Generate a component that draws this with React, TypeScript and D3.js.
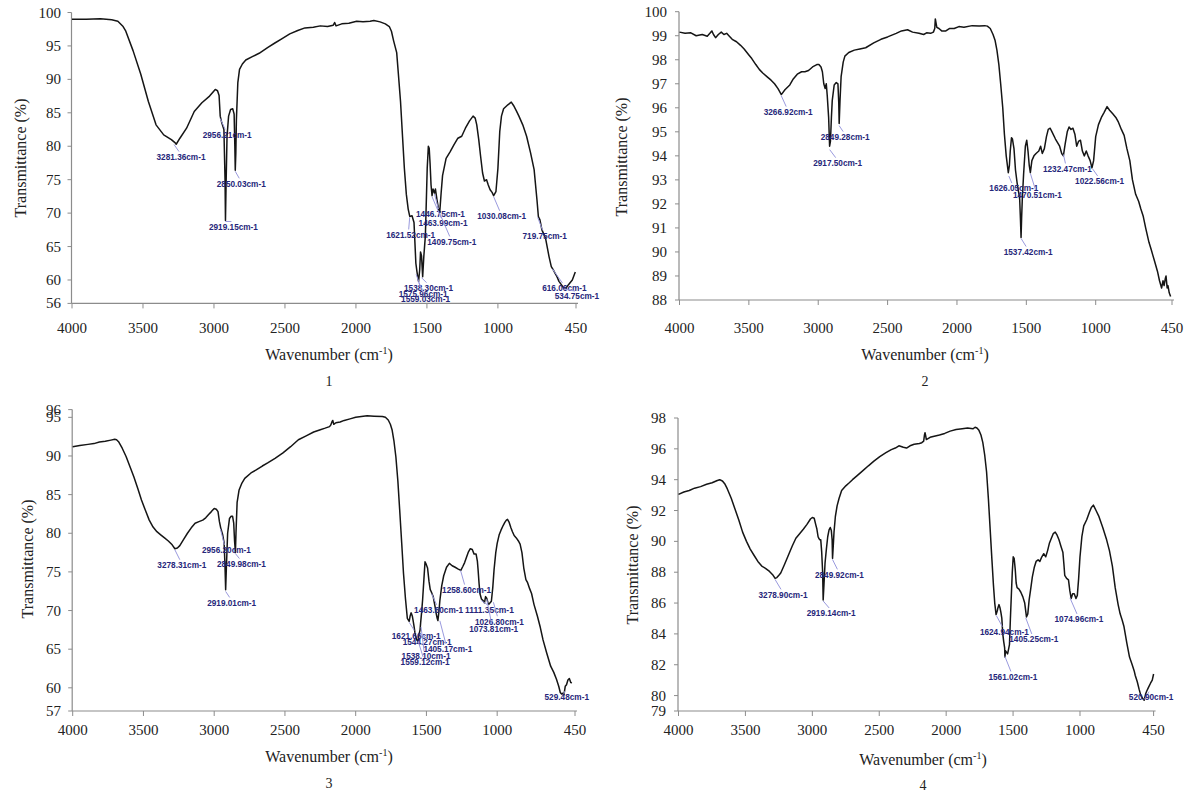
import React from 'react';
import * as d3 from 'd3';

type Pt = [number, number];
type Peak = [number, number, string];

// shared x ticks (wavenumber, cm-1)
const xTicks = [4000, 3500, 3000, 2500, 2000, 1500, 1000, 450];

const yTicks1 = [100, 95, 90, 85, 80, 75, 70, 65, 60, 56];
const yTicks2 = [100, 99, 98, 97, 96, 95, 94, 93, 92, 91, 90, 89, 88];
const yTicks3 = [96, 95, 90, 85, 80, 75, 70, 65, 60, 57];
const yTicks4 = [98, 96, 94, 92, 90, 88, 86, 84, 82, 80, 79];

// spectrum 1: [wavenumber, transmittance %]
const spectrum1: Pt[] = [
  [4000, 99.0], [3900, 99.0], [3800, 99.05], [3720, 98.9], [3677, 98.7], [3640, 97.9], [3623, 97.3],
  [3570, 94.3], [3516, 90.8], [3462, 86.7], [3408, 83.2], [3354, 81.7], [3300, 81.0], [3273, 80.5],
  [3266, 80.3], [3240, 81.2], [3193, 82.7], [3139, 85.2], [3085, 86.5], [3031, 87.5], [2991, 88.5],
  [2975, 88.3], [2964, 87.6], [2956, 84.5], [2945, 83.5], [2930, 82.5], [2922, 75], [2919, 68.9],
  [2915, 74], [2908, 81.5], [2897, 84.5], [2883, 85.5], [2868, 85.6], [2858, 84.8], [2853, 80],
  [2850, 76.4], [2846, 79], [2842, 84], [2832, 89.5], [2820, 91.5], [2800, 92.3], [2776, 92.9],
  [2730, 93.4], [2682, 93.9], [2620, 94.8], [2574, 95.4], [2520, 96.1], [2466, 96.8], [2410, 97.3],
  [2359, 97.7], [2300, 97.8], [2251, 98.0], [2200, 97.9], [2160, 98.1], [2150, 98.5], [2140, 98.0],
  [2100, 98.3], [2050, 98.4], [1995, 98.7], [1950, 98.6], [1900, 98.7], [1874, 98.8], [1830, 98.6],
  [1793, 98.3], [1765, 97.9], [1750, 97.2], [1735, 95.8], [1713, 94.0], [1700, 90.5], [1686, 86.7],
  [1672, 81.5], [1659, 76.7], [1645, 72.8], [1632, 70.6], [1621, 69.5], [1605, 69.6], [1591, 68.6],
  [1578, 62.5], [1570, 61.2], [1565, 60.5], [1559, 59.8], [1551, 61.5], [1545, 64.2], [1538, 63.6],
  [1530, 60.5], [1522, 63.5], [1511, 66.6], [1498, 76.7], [1490, 80.0], [1484, 79.7], [1478, 77.5],
  [1471, 74.2], [1464, 72.6], [1457, 73.6], [1447, 73.0], [1440, 73.6], [1430, 72.1], [1417, 70.5],
  [1410, 70.1], [1400, 73.0], [1390, 75.6], [1365, 78.2], [1336, 79.2], [1310, 80.2], [1282, 81.2],
  [1255, 81.5], [1229, 82.7], [1200, 83.8], [1175, 84.5], [1160, 84.2], [1149, 83.2], [1135, 81.0],
  [1122, 78.5], [1108, 76.0], [1095, 74.8], [1080, 75.0], [1068, 74.2], [1055, 73.5], [1041, 73.1],
  [1030, 72.6], [1014, 73.2], [1000, 76.7], [987, 82.2], [975, 84.5], [960, 85.6], [930, 86.2],
  [906, 86.6], [890, 86.1], [870, 85.3], [852, 84.5], [825, 83.2], [798, 81.5], [770, 79.0],
  [745, 76.5], [725, 72.0], [715, 69.5], [704, 69.0], [690, 67.5], [664, 66.2], [640, 63.5],
  [624, 62.0], [610, 61.5], [597, 61.0], [584, 60.5], [570, 59.8], [543, 59.0], [535, 58.8],
  [520, 58.8], [503, 59.3], [476, 60.0], [455, 61.2],
];

const spectrum2: Pt[] = [
  [4000, 99.15], [3960, 99.1], [3918, 99.12], [3880, 99.0], [3836, 99.05], [3800, 98.98], [3781, 99.1],
  [3767, 99.2], [3755, 99.05], [3740, 98.92], [3720, 99.05], [3699, 99.15], [3680, 99.05], [3660, 99.1],
  [3644, 99.0], [3620, 98.85], [3589, 98.75], [3560, 98.6], [3534, 98.45], [3500, 98.2], [3479, 98.05],
  [3450, 97.8], [3425, 97.6], [3400, 97.45], [3370, 97.3], [3340, 97.15], [3315, 97.0], [3290, 96.8],
  [3266, 96.55], [3240, 96.75], [3205, 96.95], [3180, 97.2], [3151, 97.4], [3120, 97.5], [3096, 97.5],
  [3070, 97.55], [3041, 97.7], [3010, 97.8], [2995, 97.8], [2980, 97.7], [2970, 97.5], [2960, 97.0],
  [2950, 96.8], [2942, 97.0], [2935, 96.5], [2925, 95.6], [2918, 94.4], [2912, 94.6], [2905, 95.6],
  [2899, 96.3], [2885, 96.95], [2870, 97.05], [2858, 97.0], [2852, 96.2], [2849, 95.35], [2843, 96.3],
  [2835, 97.3], [2820, 97.9], [2808, 98.15], [2780, 98.3], [2740, 98.4], [2700, 98.45], [2658, 98.5],
  [2600, 98.7], [2548, 98.85], [2500, 98.95], [2438, 99.1], [2400, 99.2], [2356, 99.25], [2320, 99.15],
  [2274, 99.1], [2240, 99.05], [2219, 99.12], [2190, 99.1], [2170, 99.15], [2160, 99.3], [2156, 99.7],
  [2150, 99.5], [2145, 99.35], [2130, 99.3], [2110, 99.2], [2080, 99.2], [2055, 99.3], [2020, 99.3],
  [1986, 99.38], [1950, 99.35], [1890, 99.42], [1840, 99.4], [1800, 99.42], [1781, 99.4], [1760, 99.3],
  [1740, 99.05], [1725, 98.8], [1712, 98.4], [1698, 97.8], [1685, 97.0], [1670, 96.0], [1658, 94.9],
  [1645, 94.0], [1630, 93.3], [1622, 93.6], [1616, 94.2], [1607, 94.75], [1600, 94.7], [1589, 94.3],
  [1578, 93.4], [1567, 92.9], [1556, 92.5], [1548, 92.2], [1542, 91.3], [1538, 90.6], [1534, 91.4],
  [1529, 92.2], [1520, 93.2], [1507, 94.4], [1497, 94.65], [1488, 94.2], [1479, 93.6], [1471, 93.3],
  [1460, 93.8], [1445, 94.0], [1430, 94.1], [1410, 94.2], [1397, 94.4], [1385, 94.1], [1370, 94.3],
  [1355, 94.8], [1342, 95.1], [1328, 95.15], [1315, 95.0], [1290, 94.7], [1260, 94.4], [1245, 94.1],
  [1233, 94.0], [1220, 94.5], [1205, 95.0], [1192, 95.2], [1178, 95.1], [1164, 95.15], [1150, 94.9],
  [1137, 94.4], [1124, 94.6], [1110, 94.65], [1096, 94.2], [1082, 94.0], [1068, 94.2], [1055, 94.0],
  [1040, 93.8], [1027, 93.5], [1015, 93.8], [1000, 94.8], [980, 95.3], [959, 95.6], [940, 95.8],
  [918, 96.05], [900, 95.9], [877, 95.75], [855, 95.6], [836, 95.4], [815, 95.1], [795, 94.85],
  [775, 94.3], [754, 93.8], [735, 93.0], [712, 92.4], [690, 92.1], [675, 91.8], [658, 91.5],
  [640, 91.0], [616, 90.4], [600, 90.1], [590, 89.9], [575, 89.6], [555, 89.2], [540, 88.8],
  [525, 88.5], [515, 88.8], [507, 88.6], [498, 88.9], [493, 89.0], [485, 88.5], [479, 88.6],
  [470, 88.3], [460, 88.15],
];

const spectrum3: Pt[] = [
  [4000, 91.2], [3950, 91.35], [3892, 91.5], [3850, 91.6], [3811, 91.8], [3770, 91.9], [3730, 92.05],
  [3703, 92.15], [3690, 92.1], [3676, 91.85], [3650, 91.0], [3622, 89.9], [3595, 88.6], [3568, 87.3],
  [3540, 85.8], [3514, 84.3], [3487, 83.0], [3459, 81.7], [3432, 80.8], [3405, 80.2], [3378, 79.8],
  [3351, 79.4], [3324, 79.0], [3297, 78.5], [3278, 78.0], [3260, 78.1], [3243, 78.4], [3216, 79.2],
  [3189, 80.0], [3162, 80.7], [3135, 81.3], [3108, 81.5], [3081, 81.7], [3060, 82.0], [3041, 82.4],
  [3020, 82.8], [3000, 83.2], [2985, 83.1], [2973, 82.8], [2963, 81.5], [2954, 80.7], [2940, 79.8],
  [2930, 78.8], [2924, 76.0], [2919, 72.7], [2914, 75.5], [2905, 80.0], [2892, 81.9], [2880, 82.2],
  [2870, 82.2], [2862, 81.3], [2856, 79.0], [2850, 77.5], [2846, 80.0], [2838, 84.0], [2824, 85.6],
  [2804, 86.5], [2784, 87.1], [2740, 87.8], [2703, 88.2], [2660, 88.7], [2622, 89.1], [2570, 89.7],
  [2514, 90.4], [2460, 91.2], [2405, 92.1], [2350, 92.6], [2297, 93.1], [2250, 93.4], [2216, 93.6],
  [2185, 93.8], [2176, 94.0], [2168, 94.4], [2162, 94.6], [2155, 94.1], [2140, 94.3], [2110, 94.4],
  [2081, 94.6], [2040, 94.8], [2000, 95.0], [1960, 95.1], [1919, 95.2], [1870, 95.15], [1811, 95.1],
  [1790, 95.0], [1770, 94.65], [1755, 94.1], [1743, 93.4], [1730, 92.0], [1716, 89.9], [1702, 86.8],
  [1689, 83.0], [1675, 78.8], [1662, 74.8], [1648, 71.5], [1635, 69.0], [1622, 68.6], [1615, 69.3],
  [1608, 69.7], [1600, 69.3], [1595, 68.8], [1588, 68.0], [1581, 67.1], [1574, 66.5], [1568, 66.2],
  [1559, 66.0], [1554, 66.8], [1545, 67.5], [1541, 68.4], [1534, 69.8], [1527, 71.4], [1518, 74.0],
  [1510, 76.3], [1502, 76.0], [1492, 75.5], [1482, 73.8], [1473, 72.7], [1465, 72.4], [1459, 72.1],
  [1452, 71.8], [1446, 71.2], [1439, 70.5], [1432, 69.7], [1424, 69.0], [1419, 68.7], [1412, 69.8],
  [1405, 71.3], [1392, 73.2], [1378, 74.5], [1358, 75.6], [1338, 76.1], [1318, 75.8], [1297, 75.6],
  [1278, 75.4], [1257, 75.2], [1243, 75.7], [1230, 76.2], [1215, 77.0], [1203, 77.6], [1190, 78.0],
  [1176, 77.9], [1163, 77.3], [1149, 77.3], [1140, 76.4], [1135, 75.3], [1128, 73.5], [1122, 72.2],
  [1111, 71.5], [1100, 71.3], [1090, 71.0], [1082, 71.8], [1074, 71.6], [1065, 71.0], [1059, 70.8],
  [1050, 71.0], [1041, 71.2], [1031, 73.0], [1022, 75.3], [1010, 77.5], [1000, 78.7], [986, 79.8],
  [973, 80.4], [958, 81.0], [946, 81.4], [935, 81.7], [927, 81.8], [915, 81.4], [903, 80.7],
  [892, 80.2], [880, 79.7], [865, 79.4], [850, 79.0], [838, 78.6], [825, 77.5], [812, 75.5],
  [797, 74.0], [785, 73.6], [770, 72.8], [757, 72.2], [740, 70.8], [716, 69.3], [695, 67.8],
  [676, 66.2], [650, 64.5], [622, 62.8], [600, 62.0], [581, 61.1], [565, 60.2], [554, 59.4],
  [545, 59.2], [535, 59.3], [528, 59.1], [519, 60.2], [510, 60.4], [500, 61.0], [490, 61.2],
  [480, 60.7], [473, 60.6],
];

const spectrum4: Pt[] = [
  [4000, 93.05], [3960, 93.2], [3920, 93.3], [3880, 93.45], [3835, 93.55], [3790, 93.7], [3749, 93.8],
  [3710, 93.95], [3692, 94.0], [3680, 93.95], [3670, 93.9], [3652, 93.7], [3635, 93.4], [3606, 92.8],
  [3578, 92.1], [3550, 91.4], [3521, 90.6], [3492, 90.0], [3464, 89.5], [3436, 89.1], [3407, 88.7],
  [3378, 88.4], [3350, 88.25], [3320, 88.05], [3293, 87.8], [3278, 87.6], [3265, 87.65], [3250, 87.8],
  [3236, 87.95], [3208, 88.5], [3179, 89.1], [3150, 89.7], [3123, 90.2], [3095, 90.5], [3066, 90.8],
  [3040, 91.1], [3014, 91.45], [3000, 91.55], [2986, 91.5], [2975, 91.1], [2966, 90.8], [2957, 90.3],
  [2952, 90.2], [2944, 90.1], [2937, 90.1], [2930, 89.3], [2923, 88.0], [2919, 86.2], [2913, 87.2],
  [2905, 88.6], [2895, 89.5], [2885, 90.3], [2875, 90.75], [2866, 90.9], [2858, 90.7], [2852, 90.1],
  [2849, 88.9], [2843, 89.8], [2838, 90.6], [2828, 91.6], [2815, 92.3], [2800, 92.8], [2781, 93.3],
  [2750, 93.6], [2724, 93.8], [2700, 94.0], [2667, 94.25], [2620, 94.6], [2581, 94.9], [2540, 95.2],
  [2496, 95.5], [2450, 95.75], [2410, 95.95], [2380, 96.05], [2353, 96.2], [2320, 96.1], [2296, 96.05],
  [2270, 96.2], [2239, 96.3], [2200, 96.35], [2182, 96.4], [2168, 96.5], [2162, 96.9], [2158, 97.05],
  [2152, 96.8], [2148, 96.6], [2120, 96.75], [2097, 96.8], [2050, 96.9], [2011, 97.0], [1970, 97.15],
  [1926, 97.25], [1880, 97.3], [1840, 97.35], [1800, 97.3], [1784, 97.4], [1770, 97.35], [1755, 97.2],
  [1740, 96.9], [1726, 96.4], [1712, 95.6], [1698, 94.5], [1684, 92.7], [1670, 90.6], [1658, 88.8],
  [1647, 87.2], [1637, 86.0], [1627, 85.25], [1618, 85.5], [1613, 85.7], [1605, 85.9], [1598, 85.7],
  [1591, 85.4], [1584, 85.0], [1577, 84.0], [1570, 83.5], [1563, 83.1], [1561, 82.5], [1556, 82.9],
  [1548, 82.8], [1541, 82.7], [1534, 83.0], [1527, 83.3], [1520, 85.0], [1513, 86.5], [1506, 88.0],
  [1499, 89.0], [1492, 88.9], [1484, 88.2], [1477, 87.3], [1470, 87.0], [1456, 86.9], [1442, 86.7],
  [1427, 86.4], [1413, 86.0], [1400, 85.1], [1390, 85.3], [1380, 86.2], [1370, 86.8], [1356, 87.7],
  [1342, 88.3], [1328, 88.7], [1313, 88.8], [1300, 88.7], [1285, 89.0], [1271, 89.2], [1256, 89.0],
  [1242, 89.4], [1228, 89.9], [1214, 90.2], [1200, 90.5], [1185, 90.6], [1171, 90.4], [1157, 90.1],
  [1143, 89.7], [1128, 89.3], [1120, 88.5], [1114, 87.8], [1100, 87.6], [1086, 87.5], [1076, 86.8],
  [1066, 86.3], [1055, 86.6], [1043, 86.6], [1030, 86.3], [1020, 86.5], [1010, 87.6], [1000, 89.0],
  [986, 90.3], [972, 91.0], [950, 91.4], [929, 91.9], [915, 92.2], [900, 92.35], [880, 92.0],
  [858, 91.6], [830, 90.9], [801, 90.1], [780, 89.4], [758, 88.4], [737, 87.0], [715, 85.9],
  [700, 85.3], [685, 84.9], [672, 84.5], [650, 83.4], [630, 82.5], [610, 82.0], [595, 81.6],
  [587, 81.3], [572, 80.9], [558, 80.4], [545, 80.0], [530, 79.8], [520, 79.7], [510, 80.1],
  [501, 80.3], [490, 80.5], [473, 80.8], [460, 81.0], [450, 81.4],
];

// peak annotations: [wavenumber, transmittance, label]
const peaks1: Peak[] = [
  [3281.36, 80.4, '3281.36cm-1'], [2956.21, 84.3, '2956.21cm-1'], [2850.03, 76.4, '2850.03cm-1'],
  [2919.15, 68.9, '2919.15cm-1'], [1621.52, 69.5, '1621.52cm-1'], [1446.75, 73.0, '1446.75cm-1'],
  [1463.99, 72.6, '1463.99cm-1'], [1409.75, 70.1, '1409.75cm-1'], [1538.30, 60.5, '1538.30cm-1'],
  [1575.96, 61.0, '1575.96cm-1'], [1559.03, 59.8, '1559.03cm-1'], [1030.08, 72.6, '1030.08cm-1'],
  [719.75, 69.5, '719.75cm-1'], [616.06, 61.8, '616.06cm-1'], [534.75, 58.8, '534.75cm-1'],
];
const peaks2: Peak[] = [
  [3266.92, 96.55, '3266.92cm-1'], [2849.28, 95.3, '2849.28cm-1'], [2917.50, 94.3, '2917.50cm-1'],
  [1626.05, 93.2, '1626.05cm-1'], [1470.51, 93.3, '1470.51cm-1'], [1537.42, 90.6, '1537.42cm-1'],
  [1232.47, 94.1, '1232.47cm-1'], [1022.56, 93.5, '1022.56cm-1'],
];
const peaks3: Peak[] = [
  [3278.31, 78.0, '3278.31cm-1'], [2956.20, 80.7, '2956.20cm-1'], [2849.98, 77.5, '2849.98cm-1'],
  [2919.01, 72.6, '2919.01cm-1'], [1258.60, 75.3, '1258.60cm-1'], [1463.60, 72.3, '1463.60cm-1'],
  [1111.35, 71.4, '1111.35cm-1'], [1026.80, 71.2, '1026.80cm-1'], [1073.81, 71.6, '1073.81cm-1'],
  [1621.66, 68.6, '1621.66cm-1'], [1544.27, 67.1, '1544.27cm-1'], [1405.17, 68.8, '1405.17cm-1'],
  [1538.10, 68.0, '1538.10cm-1'], [1559.12, 66.2, '1559.12cm-1'], [529.48, 59.3, '529.48cm-1'],
];
const peaks4: Peak[] = [
  [3278.90, 87.6, '3278.90cm-1'], [2849.92, 88.9, '2849.92cm-1'], [2919.14, 86.2, '2919.14cm-1'],
  [1624.94, 85.25, '1624.94cm-1'], [1405.25, 85.1, '1405.25cm-1'], [1561.02, 82.6, '1561.02cm-1'],
  [1074.96, 86.4, '1074.96cm-1'], [520.90, 79.8, '520.90cm-1'],
];

// label placement relative to its peak (px)
const shift1: Pt[] = [[7, 13], [7, 17], [6, 13], [8, 6], [1, 18], [6, 21], [11, 27], [12, 29], [7, 11], [7, 20], [7, 17], [8, 20], [7, 19], [12, 20], [13, 8]];
const shift2: Pt[] = [[7, 17], [6, 12], [8, 14], [5, 13], [7, 22], [7, 14], [4, 15], [7, 13]];
const shift3: Pt[] = [[7, 16], [6, 22], [6, 11], [6, 12], [6, 20], [7, 17], [8, 10], [6, 20], [7, 31], [7, 14], [7, 9], [8, 29], [5, 30], [7, 22], [3, 3]];
const shift4: Pt[] = [[8, 16], [7, 16], [8, 13], [8, 17], [8, 22], [8, 21], [9, 22], [7, -2]];

const panels = [
  { data: spectrum1, peaks: peaks1, shift: shift1, yTicks: yTicks1, yDom: [56.5, 100], num: '1',
    x0: 72, x1: 576, yTop: 12.5, yBot: 303.4, yLblX: 61, xLblY: 333, titleY: 360, numY: 386, yTitleX: 20, yTitleY: 158, cx: 329 },
  { data: spectrum2, peaks: peaks2, shift: shift2, yTicks: yTicks2, yDom: [88, 100], num: '2',
    x0: 679.5, x1: 1172, yTop: 11.7, yBot: 300, yLblX: 667, xLblY: 333, titleY: 360, numY: 386, yTitleX: 621, yTitleY: 157, cx: 925 },
  { data: spectrum3, peaks: peaks3, shift: shift3, yTicks: yTicks3, yDom: [57, 96], num: '3',
    x0: 72.7, x1: 575, yTop: 409.6, yBot: 711, yLblX: 61, xLblY: 735, titleY: 762, numY: 788, yTitleX: 27, yTitleY: 559, cx: 329 },
  { data: spectrum4, peaks: peaks4, shift: shift4, yTicks: yTicks4, yDom: [79, 98], num: '4',
    x0: 678.5, x1: 1153.6, yTop: 418, yBot: 711, yLblX: 666, xLblY: 735, titleY: 765, numY: 790, yTitleX: 632, yTitleY: 565, cx: 923 },
];

const SERIF = '"Liberation Serif", "Times New Roman", serif';
const AXIS = '#8c8c8c';

const Panel = ({ p }: { p: typeof panels[number] }) => {
  const x = d3.scaleLinear().domain([4000, 450]).range([p.x0, p.x1]);
  const y = d3.scaleLinear().domain(p.yDom).range([p.yBot, p.yTop]);
  const line = d3.line<Pt>().x(d => x(d[0])).y(d => y(d[1]));
  const axisX = p.x0 - 0.5;
  const ty = (t: number) => Math.min(y(t), p.yBot);

  return (
    <g>
      {/* axes */}
      <line x1={axisX} x2={axisX} y1={p.yTop} y2={p.yBot} stroke={AXIS} strokeWidth={1.2} />
      <line x1={axisX} x2={p.x1 + 2} y1={p.yBot} y2={p.yBot} stroke={AXIS} strokeWidth={1.2} />
      {p.yTicks.map(t => (
        <g key={'y' + t}>
          <line x1={axisX - 4} x2={axisX} y1={ty(t)} y2={ty(t)} stroke={AXIS} />
          <text x={p.yLblX} y={ty(t) + 5} textAnchor="end" fontSize={15} fontFamily={SERIF} fill="#222">{t}</text>
        </g>
      ))}
      {xTicks.map(t => (
        <g key={'x' + t}>
          <line x1={x(t)} x2={x(t)} y1={p.yBot} y2={p.yBot + 5} stroke={AXIS} />
          <text x={x(t)} y={p.xLblY} textAnchor="middle" fontSize={15} fontFamily={SERIF} fill="#222">{t}</text>
        </g>
      ))}
      <text x={p.cx} y={p.titleY} textAnchor="middle" fontSize={16} fontFamily={SERIF} fill="#222">
        Wavenumber (cm<tspan dy={-6} fontSize={10}>-1</tspan><tspan dy={6}>)</tspan>
      </text>
      <text x={p.cx} y={p.numY} textAnchor="middle" fontSize={14} fontFamily={SERIF} fill="#222">{p.num}</text>
      <text transform={`translate(${p.yTitleX},${p.yTitleY}) rotate(-90)`} textAnchor="middle" dominantBaseline="central"
        fontSize={16} fontFamily={SERIF} fill="#222">Transmittance (%)</text>

      {/* spectrum */}
      <path d={line(p.data) || ''} fill="none" stroke="#151515" strokeWidth={1.5} strokeLinejoin="round" />

      {/* peak labels */}
      {p.peaks.map((pk, i) => {
        const px = x(pk[0]);
        const py = y(pk[1]);
        const lx = px + p.shift[i][0];
        const ly = py + p.shift[i][1];
        const w = pk[2].length * 4.45;
        return (
          <g key={'pk' + i}>
            <line x1={px} y1={py + 1} x2={lx - 2} y2={ly - 5} stroke="#9a9ade" strokeWidth={1} />
            <text x={lx} y={ly + 3.3} textAnchor="middle" fontSize={9.5} fontWeight="bold"
              fontFamily='"Liberation Sans", Arial, sans-serif' fill="#26267a"
              textLength={w} lengthAdjust="spacingAndGlyphs">{pk[2]}</text>
          </g>
        );
      })}
    </g>
  );
};

export default function App() {
  return (
    <svg width={1188} height={795} style={{ position: 'absolute', left: 0, top: 0, background: '#fff' }}>
      <rect width={1188} height={795} fill="#fff" />
      {panels.map(p => <Panel key={p.num} p={p} />)}
    </svg>
  );
}
